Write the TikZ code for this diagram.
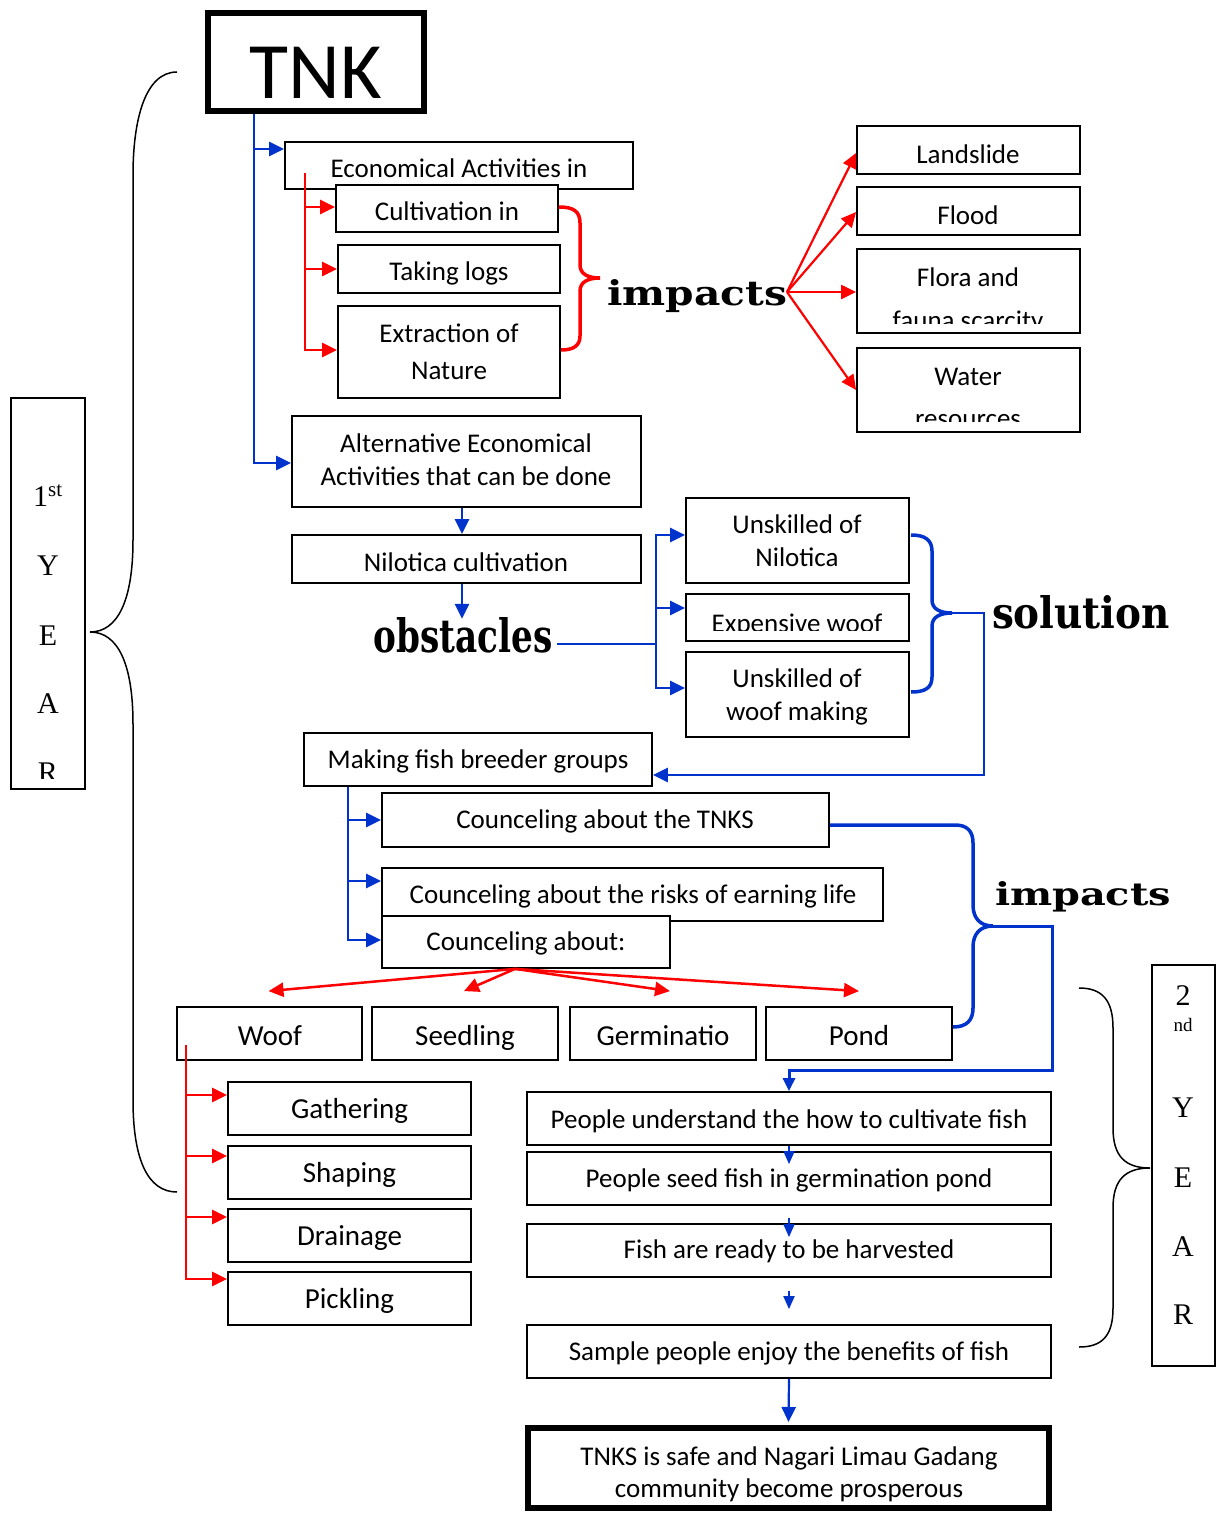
\documentclass[tikz,border=0pt]{standalone}
\usepackage{fontspec}
\usepackage{graphicx}
\usetikzlibrary{arrows.meta}
\newfontfamily\calibri{Carlito}
\newfontfamily\timesf{Liberation Serif}
\newfontfamily\heavy{DejaVu Serif}
\definecolor{myblue}{RGB}{0,51,204}
\definecolor{myred}{RGB}{255,0,0}
\begin{document}
\begin{tikzpicture}[x=1pt,y=-1pt,
 box/.style={draw, fill=white, line width=1.8pt, inner sep=0pt, rectangle},
 thickbox/.style={draw, fill=white, line width=6pt, inner sep=0pt, rectangle},
 txt/.style={font=\calibri\fontsize{27}{32}\selectfont, anchor=base, inner sep=0pt},
 txtb/.style={font=\calibri\fontsize{29}{34}\selectfont, anchor=base, inner sep=0pt},
 disp/.style={font=\heavy\bfseries\fontsize{40}{44}\selectfont, anchor=base, inner sep=0pt},
 yr/.style={font=\timesf\fontsize{30}{36}\selectfont, anchor=base, inner sep=0pt},
 barr/.style={draw=myblue, line width=2.5pt, -{Triangle[length=15pt,width=14pt]}},
 bline/.style={draw=myblue, line width=2.5pt},
 bbrace/.style={draw=myblue, line width=3.5pt},
 rarr/.style={draw=myred, line width=2.5pt, -{Triangle[length=15pt,width=14pt]}},
 rbrace/.style={draw=myred, line width=3.5pt},
 bsmall/.style={draw=myblue, line width=2pt, -{Triangle[length=13pt,width=11pt]}},
 kbrace/.style={draw=black, line width=1.5pt},
]
\fill[white] (0,0) rectangle (1216,1514);
\useasboundingbox (0,0) rectangle (1216,1514);

% ---------- TNK ----------
\node[thickbox, minimum width=216pt, minimum height=98pt] (tnk) at (316,62) {};
\node[font=\calibri\fontsize{80}{90}\selectfont, anchor=base, inner sep=0pt] (tnkt) at (316,99) {TNK};

% ---------- economic activities ----------
\node[box, minimum width=348pt, minimum height=47pt] (econ) at (459,165.5) {};
\node[txt] (econt) at (459,178) {Economical Activities in};
\node[box, minimum width=222pt, minimum height=47pt] (cult) at (447,208.5) {};
\node[txt] (cultt) at (447,221) {Cultivation in};
\node[box, minimum width=222pt, minimum height=48pt] (logs) at (449,269) {};
\begin{scope}
\clip (338,245) rectangle (560,284);
\node[txt] (logst) at (449,280) {Taking logs};
\end{scope}
\node[box, minimum width=222pt, minimum height=92pt] (extr) at (449,352) {};
\node[txt] (extrt1) at (449,342) {Extraction of};
\node[txt] (extrt2) at (449,379) {Nature};

% ---------- impacts 1 ----------
\node[box, minimum width=223pt, minimum height=48pt] (land) at (968.5,150) {};
\begin{scope}
\clip (857,126) rectangle (1080,165);
\node[txt] (landt) at (968,164) {Landslide};
\end{scope}
\node[box, minimum width=223pt, minimum height=48pt] (flood) at (968.5,211) {};
\begin{scope}
\clip (857,187) rectangle (1080,226);
\node[txt] (floodt) at (968,225) {Flood};
\end{scope}
\node[box, minimum width=223pt, minimum height=84pt] (flora) at (968.5,291) {};
\node[txt] (florat1) at (968,287) {Flora and};
\begin{scope}
\clip (857,249) rectangle (1080,323);
\node[txt] (florat2) at (968,329) {fauna scarcity};
\end{scope}
\node[box, minimum width=223pt, minimum height=84pt] (water) at (968.5,390) {};
\node[txt] (watert1) at (968,385) {Water};
\begin{scope}
\clip (857,348) rectangle (1080,421);
\node[txt] (watert2) at (968,427) {resources};
\end{scope}

\node[disp] (imp1) at (697,305) {\resizebox{180pt}{26pt}{impacts}};

% ---------- alternative ----------
\node[box, minimum width=349pt, minimum height=91pt] (alt) at (466.5,461.5) {};
\node[txt] (altt1) at (466,452) {Alternative Economical};
\node[txt] (altt2) at (466,485) {Activities that can be done};
\node[box, minimum width=349pt, minimum height=48pt] (nilo) at (466.5,559) {};
\node[txt] (nilot) at (466,571) {Nilotica cultivation};
\node[disp] (obst) at (463,652) {\resizebox{179pt}{35pt}{obstacles}};

\node[box, minimum width=223pt, minimum height=85pt] (un1) at (797.5,540.5) {};
\node[txt] (un1t1) at (797,533) {Unskilled of};
\node[txt] (un1t2) at (797,566) {Nilotica};
\node[box, minimum width=223pt, minimum height=47pt] (exp) at (797.5,617.5) {};
\begin{scope}
\clip (686,594) rectangle (909,630);
\node[txt] (expt) at (797,632) {Expensive woof};
\end{scope}
\node[box, minimum width=223pt, minimum height=85pt] (uw) at (797.5,694.5) {};
\node[txt] (uwt1) at (797,687) {Unskilled of};
\node[txt] (uwt2) at (797,720) {woof making};
\node[disp] (sol) at (1081,628) {\resizebox{178pt}{33pt}{solution}};

% ---------- counceling ----------
\node[box, minimum width=348pt, minimum height=53pt] (making) at (478,759.5) {};
\node[txt] (makingt) at (478,768) {Making fish breeder groups};
\node[box, minimum width=447pt, minimum height=54pt] (tnks) at (605.5,820) {};
\node[txt] (tnkst) at (605,828) {Counceling about the TNKS};
\node[box, minimum width=501pt, minimum height=53pt] (risks) at (632.5,894.5) {};
\node[txt] (riskst) at (633,903) {Counceling about the risks of earning life};
\node[box, minimum width=288pt, minimum height=52pt] (about) at (526,942) {};
\node[txt] (aboutt) at (526,950) {Counceling about:};
\node[disp] (imp2) at (1083,905) {\resizebox{176pt}{24pt}{impacts}};

% ---------- woof row ----------
\node[box, minimum width=185pt, minimum height=53pt] (woof) at (269.5,1033.5) {};
\node[txtb] (wooft) at (270,1045) {Woof};
\node[box, minimum width=186pt, minimum height=53pt] (seedl) at (465,1033.5) {};
\node[txtb] (seedlt) at (465,1045) {Seedling};
\node[box, minimum width=186pt, minimum height=53pt] (germ) at (663,1033.5) {};
\node[txtb] (germt) at (663,1045) {Germinatio};
\node[box, minimum width=186pt, minimum height=53pt] (pond) at (859,1033.5) {};
\node[txtb] (pondt) at (859,1045) {Pond};

\node[box, minimum width=243pt, minimum height=53pt] (gath) at (349.5,1108.5) {};
\node[txtb] (gatht) at (349.5,1118) {Gathering};
\node[box, minimum width=243pt, minimum height=53pt] (shap) at (349.5,1172.5) {};
\node[txtb] (shapt) at (349.5,1182) {Shaping};
\node[box, minimum width=243pt, minimum height=53pt] (drain) at (349.5,1235.5) {};
\node[txtb] (draint) at (349.5,1245) {Drainage};
\node[box, minimum width=243pt, minimum height=53pt] (pick) at (349.5,1298.5) {};
\node[txtb] (pickt) at (349.5,1308) {Pickling};

% ---------- results ----------
\node[box, minimum width=524pt, minimum height=53pt] (und) at (789,1118.5) {};
\node[txt] (undt) at (789,1128) {People understand the how to cultivate fish};
\node[box, minimum width=524pt, minimum height=53pt] (seed) at (789,1178.5) {};
\node[txt] (seedt) at (789,1187) {People seed fish in germination pond};
\node[box, minimum width=524pt, minimum height=53pt] (ready) at (789,1250.5) {};
\node[txt] (readyt) at (789,1258) {Fish are ready to be harvested};
\node[box, minimum width=524pt, minimum height=53pt] (sample) at (789,1351.5) {};
\node[txt] (samplet) at (789,1360) {Sample people enjoy the benefits of fish};
\node[thickbox, minimum width=521pt, minimum height=80pt] (final) at (788.5,1468) {};
\node[txt] (finalt1) at (789,1465) {TNKS is safe and Nagari Limau Gadang};
\node[txt] (finalt2) at (789,1497) {community become prosperous};

% ---------- year boxes ----------
\node[box, line width=1.6pt, minimum width=74pt, minimum height=391pt] (year1) at (48,593.5) {};
\node[yr] (y1a) at (48,506) {1\textsuperscript{st}};
\node[yr] (y1b) at (48,575) {Y};
\node[yr] (y1c) at (48,645) {E};
\node[yr] (y1d) at (48,713) {A};
\begin{scope}
\clip (12,700) rectangle (84,778);
\node[yr] (y1e) at (48,782) {R};
\end{scope}

\node[box, line width=1.6pt, minimum width=63pt, minimum height=401pt] (year2) at (1183.5,1165.5) {};
\node[yr] (y2a) at (1183,1005) {2};
\node[yr, font=\timesf\fontsize{19}{22}\selectfont] (y2b) at (1183,1031) {nd};
\node[yr] (y2c) at (1183,1117) {Y};
\node[yr] (y2d) at (1183,1187) {E};
\node[yr] (y2e) at (1183,1256) {A};
\node[yr] (y2f) at (1183,1324) {R};

% ---------- black braces ----------
\draw[kbrace] (177,72) .. controls (145,72) and (133,120) .. (133,175) -- (133,540)
  .. controls (133,600) and (118,632) .. (90,632)
  .. controls (118,632) and (133,664) .. (133,724) -- (133,1100)
  .. controls (133,1160) and (148,1192) .. (177,1192);
\draw[kbrace] (1079,988) .. controls (1102,988) and (1113,1000) .. (1113,1028) -- (1113,1128)
  .. controls (1113,1156) and (1125,1168) .. (1150,1168)
  .. controls (1125,1168) and (1113,1180) .. (1113,1208) -- (1113,1308)
  .. controls (1113,1336) and (1102,1347) .. (1079,1347);

% ---------- connectors: top ----------
\coordinate (tk) at ([xshift=-62pt]tnk.south);
\draw[bline] (tk) -- ([xshift=-62pt]tnk.south |- alt.west);
\draw[barr] (tk) |- ([yshift=16.5pt]econ.west);
\draw[barr] (tk) |- ([yshift=-1.5pt]alt.west);

\coordinate (rtop) at (305,173);
\draw[rarr] (rtop) |- ([yshift=1.5pt]cult.west);
\draw[rarr] (rtop) |- (logs.west);
\draw[rarr] (rtop) |- ([yshift=2pt]extr.west);

% red brace
\draw[rbrace] ([yshift=1.5pt]cult.east) .. controls (573,207) and (580,211) .. (580,223) -- (580,265)
  .. controls (580,274) and (588,278) .. (600,278)
  .. controls (588,278) and (580,282) .. (580,291) -- (580,336)
  .. controls (580,346) and (573,350) .. ([yshift=2pt]extr.east);

\coordinate (imptip) at (787,292);
\draw[rarr, line width=2.2pt] (imptip) -- ([yshift=-3pt]land.west);
\draw[rarr, line width=2.2pt] (imptip) -- ([yshift=-1pt]flood.west);
\draw[rarr, line width=2.2pt] (imptip) -- ([yshift=-1pt]flora.west);
\draw[rarr, line width=2.2pt] (imptip) -- (water.west);

% ---------- alternative / obstacles ----------
\draw[barr] ([xshift=-4.5pt]alt.south) -- ([xshift=-4.5pt]nilo.north);
\draw[barr] ([xshift=-4.5pt]nilo.south) -- ([xshift=-1pt,yshift=-2pt]obst.north);

\coordinate (ot) at (656,644);
\draw[bline] ([xshift=4pt]obst.east |- ot) -- (ot);
\draw[barr] (ot) |- ([yshift=5.5pt]un1.west);
\draw[barr] (ot) |- ([yshift=9.5pt]exp.west);
\draw[barr] (ot) |- ([yshift=6.5pt]uw.west);

% blue brace (solution)
\draw[bbrace] (911,535) .. controls (925,535) and (932,540) .. (932,551) -- (932,600)
  .. controls (932,609) and (940,613) .. (952,613)
  .. controls (940,613) and (932,617) .. (932,626) -- (932,677)
  .. controls (932,688) and (925,692) .. (911,692);
\coordinate (soltip) at (950,613);
\draw[barr] (soltip) -- (984,613) |- ([yshift=-15.5pt]making.east);

% ---------- counceling connectors ----------
\coordinate (mt) at ([xshift=-130pt]making.south);
\draw[barr] (mt) |- (tnks.west);
\draw[barr] (mt) |- ([yshift=13.5pt]risks.west);
\draw[barr] (mt) |- ([yshift=2pt]about.west);

% blue brace (impacts 2)
\draw[bbrace] ([yshift=-5pt]tnks.east) -- (955,825)
  .. controls (967,825) and (973,831) .. (973,843) -- (973,905)
  .. controls (973,918) and (980,926) .. (993,926)
  .. controls (980,926) and (973,934) .. (973,947) -- (973,1008)
  .. controls (973,1020) and (967,1027) .. ([yshift=6.5pt]pond.east);
\coordinate (imptip2) at (992,926);
\draw[bline, line width=3pt, -{Triangle[length=13pt,width=12pt]}] (imptip2) -- (1052,926) |- (789,1070) -- (und.north);

% red arrows from counceling about
\coordinate (ab) at ([xshift=-11pt]about.south);
\draw[rarr] (ab) -- ([xshift=-1pt,yshift=15pt]woof.north);
\draw[rarr] (ab) -- ([xshift=-1pt,yshift=15pt]seedl.north);
\draw[rarr] (ab) -- ([xshift=7pt,yshift=15pt]germ.north);
\draw[rarr] (ab) -- ([yshift=15pt]pond.north);

% red trunk under woof
\coordinate (wt) at (186,1045);
\draw[rarr] (wt) |- ([yshift=13.5pt]gath.west);
\draw[rarr] (wt) |- ([yshift=16.5pt]shap.west);
\draw[rarr] (wt) |- ([yshift=18.5pt]drain.west);
\draw[rarr] (wt) |- ([yshift=19.5pt]pick.west);

% results arrows
\draw[bsmall] (und.south) -- ([yshift=-13pt]seed.north);
\draw[bsmall] ([yshift=-12pt]seed.south) -- ([yshift=-14pt]ready.north);
\draw[bsmall] ([yshift=-13pt]ready.south) -- ([yshift=15pt]sample.north);
\draw[barr, line width=2.2pt] (sample.south) -- ([yshift=3pt]final.north);
\end{tikzpicture}
\end{document}
